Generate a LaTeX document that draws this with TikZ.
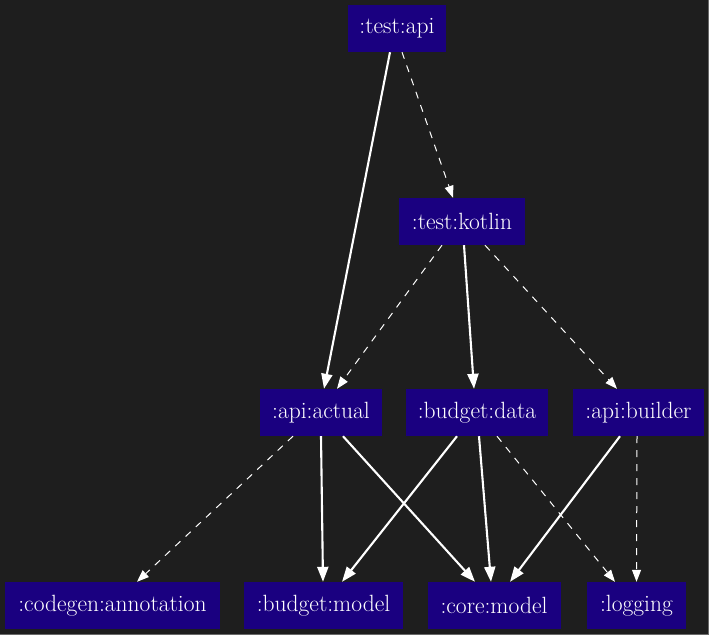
\documentclass[tikz,border=0pt]{standalone}
\usepackage{fontspec}
\usetikzlibrary{arrows.meta}
\definecolor{bgc}{RGB}{30,30,30}
\definecolor{nodec}{RGB}{26,0,128}
\definecolor{edgec}{RGB}{255,255,255}
\definecolor{framec}{RGB}{105,105,105}
\begin{document}
\begin{tikzpicture}[x=1pt,y=-1pt,
  mod/.style={fill=nodec, text=white, minimum height=47pt, inner xsep=8pt, inner ysep=0pt,
    font=\fontsize{23.5}{28}\selectfont, anchor=center},
  hard/.style={draw=edgec, line width=2.1pt, -{Triangle[length=15pt,width=11pt]}},
  soft/.style={draw=edgec, line width=1pt, dash pattern=on 7pt off 7pt, -{Triangle[length=12pt,width=9pt]}}]
\fill[bgc] (0,0) rectangle (709,635);
\useasboundingbox (0,0) rectangle (709,635);
\draw[framec, line width=1.5pt] (0,634.25) -- (708.25,634.25) -- (708.25,0);

\node[mod, minimum width=98pt] (testapi) at (397,28.5) {:test:api};
\node[mod, minimum width=126pt] (testkotlin) at (462,221.5) {:test:kotlin};
\node[mod, minimum width=122pt] (apiactual) at (321,412.5) {:api:actual};
\node[mod, minimum width=142pt] (budgetdata) at (477,412.5) {:budget:data};
\node[mod, minimum width=131pt] (apibuilder) at (638.5,412.5) {:api:builder};
\node[mod, minimum width=215pt] (codegen) at (112.5,605.5) {:codegen:annotation};
\node[mod, minimum width=159pt] (budgetmodel) at (323.5,605.5) {:budget:model};
\node[mod, minimum width=133pt] (coremodel) at (494,605.5) {:core:model};
\node[mod, minimum width=99pt] (logging) at (636.5,605.5) {:logging};

\draw[hard] ([xshift=-7pt]testapi.south) -- ([xshift=3pt]apiactual.north);
\draw[soft] ([xshift=5pt]testapi.south) -- ([xshift=-9pt]testkotlin.north);
\draw[soft] ([xshift=-20pt]testkotlin.south) -- ([xshift=16pt]apiactual.north);
\draw[hard] ([xshift=2pt]testkotlin.south) -- ([xshift=-3pt]budgetdata.north);
\draw[soft] ([xshift=23pt]testkotlin.south) -- ([xshift=-21.5pt]apibuilder.north);

\draw[soft] ([xshift=-28pt]apiactual.south) -- ([xshift=24.5pt]codegen.north);
\draw[hard] ([xshift=0pt]apiactual.south) -- ([xshift=-0.5pt]budgetmodel.north);
\draw[hard] ([xshift=22pt]apiactual.south) -- ([xshift=-19pt]coremodel.north);
\draw[hard] ([xshift=-20pt]budgetdata.south) -- ([xshift=18.5pt]budgetmodel.north);
\draw[hard] ([xshift=2pt]budgetdata.south) -- ([xshift=-3pt]coremodel.north);
\draw[soft] ([xshift=20pt]budgetdata.south) -- ([xshift=-21.5pt]logging.north);
\draw[hard] ([xshift=-18.5pt]apibuilder.south) -- ([xshift=16pt]coremodel.north);
\draw[soft] ([xshift=-1.5pt]apibuilder.south) -- ([xshift=0pt]logging.north);
\end{tikzpicture}
\end{document}
